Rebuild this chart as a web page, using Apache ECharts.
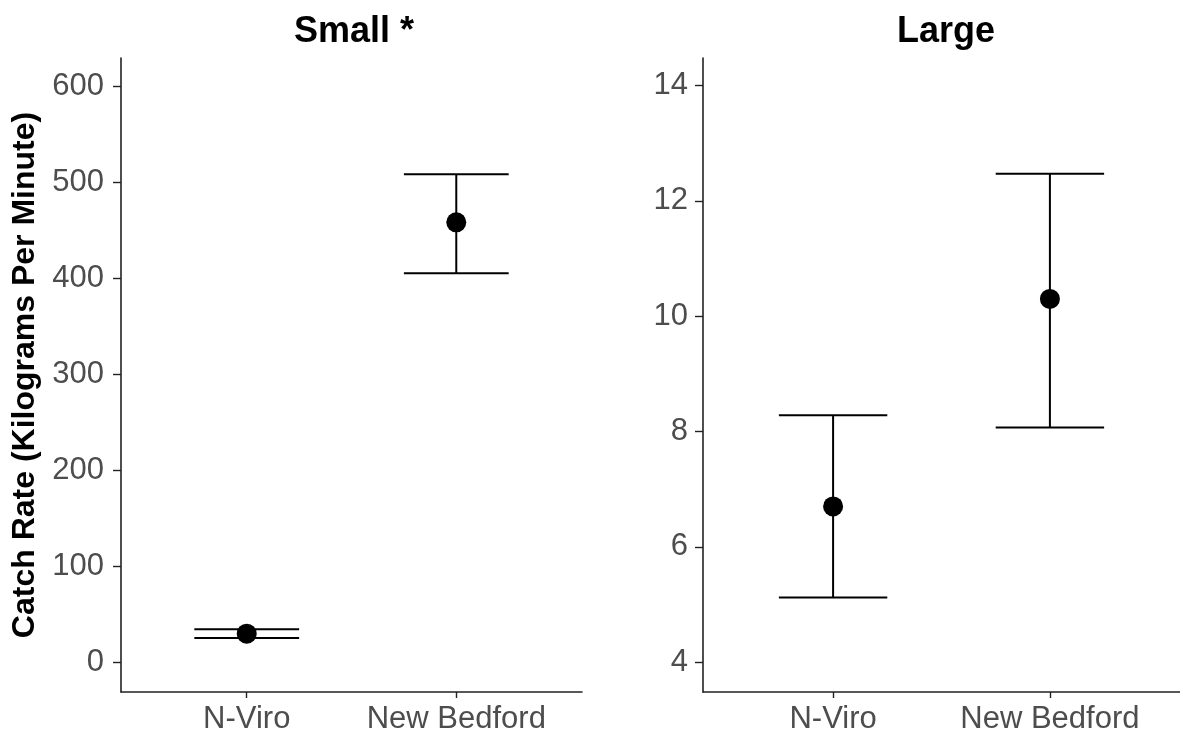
<!DOCTYPE html>
<html>
<head>
<meta charset="utf-8">
<script src="https://cdn.jsdelivr.net/npm/echarts@6/dist/echarts.min.js"></script>
<style>
  html, body { margin: 0; padding: 0; background: #ffffff; }
  #chart { width: 1180px; height: 736px; }
</style>
</head>
<body>
<div id="chart"></div>
<script>
// Sites compared in each panel
const groups = ['N-Viro', 'New Bedford'];

// Small fish: mean catch rate and interval bounds (kg per minute)
const smallMean = [29.5, 458];
const smallLower = [25, 405];
const smallUpper = [34, 508];

// Large fish: mean catch rate and interval bounds (kg per minute)
const largeMean = [6.7, 10.3];
const largeLower = [5.12, 8.07];
const largeUpper = [8.28, 12.47];

// Tick values for each panel's y axis
const smallTicks = [0, 100, 200, 300, 400, 500, 600];
const largeTicks = [4, 6, 8, 10, 12, 14];

const panelTitles = ['Small *', 'Large'];
const yTitle = 'Catch Rate (Kilograms Per Minute)';

const FONT = "'Liberation Sans', Arial, sans-serif";
const AXIS_COLOR = '#222222';
const LABEL_COLOR = '#4d4d4d';

const chart = echarts.init(document.getElementById('chart'), null, { renderer: 'canvas' });

// x positions 1..n on a continuous axis padded by 0.6 on both sides
const xPos = groups.map((_, i) => i + 1);

function pointData(means) {
  return means.map((m, i) => [xPos[i], m]);
}
function barData(lower, upper) {
  return lower.map((lo, i) => [xPos[i], lo, upper[i]]);
}

function renderErrorBar(params, api) {
  const x = api.value(0);
  const lo = api.coord([x, api.value(1)]);
  const hi = api.coord([x, api.value(2)]);
  const half = api.size([0.5, 0])[0] / 2;
  const style = { stroke: '#000000', lineWidth: 2 };
  return {
    type: 'group',
    children: [
      { type: 'line', shape: { x1: lo[0], y1: lo[1], x2: hi[0], y2: hi[1] }, style },
      { type: 'line', shape: { x1: hi[0] - half, y1: hi[1], x2: hi[0] + half, y2: hi[1] }, style },
      { type: 'line', shape: { x1: lo[0] - half, y1: lo[1], x2: lo[0] + half, y2: lo[1] }, style }
    ]
  };
}

function xAxisFor(gridIndex) {
  return {
    type: 'value',
    gridIndex,
    min: 0.4,
    max: 2.6,
    axisLine: { show: true, onZero: false, lineStyle: { color: AXIS_COLOR, width: 1.6 } },
    axisTick: { show: true, length: 6, customValues: xPos, lineStyle: { color: AXIS_COLOR, width: 1.4 } },
    axisLabel: {
      customValues: xPos,
      formatter: v => groups[Math.round(v) - 1],
      color: LABEL_COLOR,
      fontFamily: FONT,
      fontSize: 31,
      margin: 12
    },
    splitLine: { show: false }
  };
}

function yAxisFor(gridIndex, min, max, ticks, margin, withName) {
  const axis = {
    type: 'value',
    gridIndex,
    min,
    max,
    axisLine: { show: true, lineStyle: { color: AXIS_COLOR, width: 1.6 } },
    axisTick: { show: true, length: 8, customValues: ticks, lineStyle: { color: AXIS_COLOR, width: 1.4 } },
    axisLabel: {
      customValues: ticks,
      color: LABEL_COLOR,
      fontFamily: FONT,
      fontSize: 31,
      margin
    },
    splitLine: { show: false }
  };
  if (withName) {
    axis.name = yTitle;
    axis.nameLocation = 'middle';
    axis.nameRotate = 90;
    axis.nameGap = 80;
    axis.nameTextStyle = { color: '#000000', fontFamily: FONT, fontSize: 32, fontWeight: 'bold' };
  }
  return axis;
}

const option = {
  backgroundColor: '#ffffff',
  animation: false,
  title: [
    {
      text: panelTitles[0], left: 349, top: 9, textAlign: 'center',
      textStyle: { fontFamily: FONT, fontSize: 36, fontWeight: 'bold', color: '#000000' }
    },
    {
      text: panelTitles[1], left: 941, top: 9, textAlign: 'center',
      textStyle: { fontFamily: FONT, fontSize: 36, fontWeight: 'bold', color: '#000000' }
    }
  ],
  grid: [
    { left: 121, top: 58, width: 461, height: 634 },
    { left: 703, top: 58, width: 477, height: 634 }
  ],
  xAxis: [xAxisFor(0), xAxisFor(1)],
  yAxis: [
    yAxisFor(0, -31.3, 629.2, smallTicks, 17, true),
    yAxisFor(1, 3.48, 14.48, largeTicks, 15, false)
  ],
  series: [
    {
      type: 'custom', xAxisIndex: 0, yAxisIndex: 0,
      renderItem: renderErrorBar, data: barData(smallLower, smallUpper), z: 2
    },
    {
      type: 'scatter', xAxisIndex: 0, yAxisIndex: 0,
      symbol: 'circle', symbolSize: 20, itemStyle: { color: '#000000', opacity: 1 },
      data: pointData(smallMean), z: 3
    },
    {
      type: 'custom', xAxisIndex: 1, yAxisIndex: 1,
      renderItem: renderErrorBar, data: barData(largeLower, largeUpper), z: 2
    },
    {
      type: 'scatter', xAxisIndex: 1, yAxisIndex: 1,
      symbol: 'circle', symbolSize: 20, itemStyle: { color: '#000000', opacity: 1 },
      data: pointData(largeMean), z: 3
    }
  ]
};

chart.setOption(option);
</script>
</body>
</html>
